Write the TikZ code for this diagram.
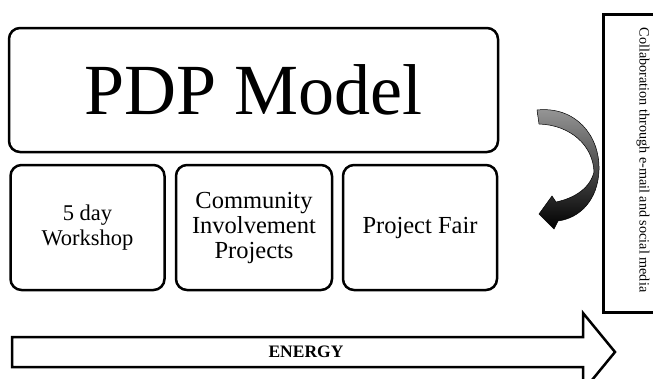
\documentclass[tikz,border=0pt]{standalone}
\usepackage{fontspec}
\setmainfont{Liberation Serif}
\begin{document}
\begin{tikzpicture}[x=1pt,y=-1pt,
  rbox/.style={draw=black, line width=2.5pt, rounded corners=11pt, fill=white, align=center, inner sep=0pt},
  lbl/.style={align=center, inner sep=0pt}]
\useasboundingbox (0,0) rectangle (653,378);
% top box
\node[rbox, minimum width=489pt, minimum height=124pt, font=\fontsize{72}{80}\selectfont] (pdp) at (253.5,90) {PDP Model};
% bottom boxes
\node[rbox, minimum width=154pt, minimum height=125pt, font=\fontsize{22.5}{25}\selectfont] (ws) at (87.5,227.5) {5 day\\Workshop};
\node[rbox, minimum width=156pt, minimum height=125pt, font=\fontsize{24.5}{25}\selectfont] (cip) at (254,227.5) {Community\\Involvement\\Projects};
\node[rbox, minimum width=154pt, minimum height=125pt, font=\fontsize{24.5}{25}\selectfont] (pf) at (420,227.5) {Project Fair};
% right rectangle
\draw[line width=3pt] (603,14) rectangle (680,312);
\node[lbl, rotate=-90, font=\fontsize{14.2}{16}\selectfont] (collab) at (643,160) {Collaboration through e-mail and social media};
% curved arrow
\path[draw=black, line width=0.5pt, top color=black!40, bottom color=black, shading angle=0]
  (537,110) .. controls (575,106) and (600,135) .. (599,170)
  .. controls (598,200) and (580,218) .. (558,221)
  -- (554,229) -- (539,214) -- (552,196)
  -- (556,202) .. controls (575,198) and (590,188) .. (594,172)
  .. controls (593,145) and (570,125) .. (539,124) -- cycle;
% energy arrow
\draw[line width=2.5pt, miter limit=10] (12,337) -- (583,337) -- (583,313) -- (615,352) -- (583,391) -- (583,367) -- (12,367) -- cycle;
\node[lbl, font=\bfseries\fontsize{17.5}{19}\selectfont] (energy) at (306,352) {ENERGY};
\end{tikzpicture}
\end{document}
